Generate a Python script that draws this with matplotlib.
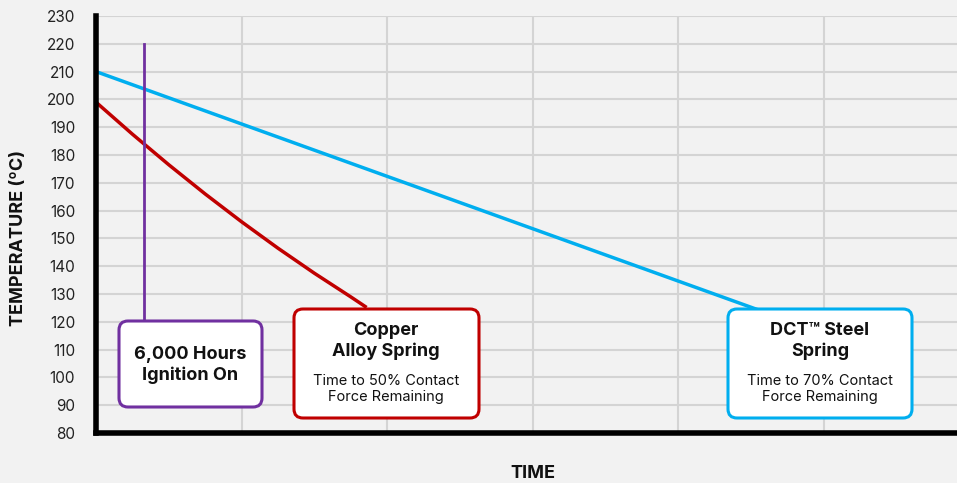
import matplotlib
matplotlib.use("Agg")
import matplotlib.pyplot as plt
from matplotlib.patches import FancyBboxPatch

plt.rcParams['font.family'] = ['Inter', 'DejaVu Sans']

# Data
steel_x = [0.0, 4.7]
steel_y = [210, 121.5]
copper_x = [0.0, 0.25, 0.5, 0.75, 1.0, 1.25, 1.5, 1.75, 1.85]
copper_y = [199, 187.5, 176.5, 166, 156, 146.5, 137.5, 129, 125.5]
marker_x = 0.33
marker_y = [120, 220]
y_ticks = list(range(80, 231, 10))
x_grid = [1, 2, 3, 4, 5]

BG = "#f2f2f2"
BLUE = "#00aeef"
RED = "#c00000"
PURPLE = "#7030a0"

W, H = 957, 483
fig = plt.figure(figsize=(W / 100, H / 100), dpi=100, facecolor=BG)
ax_l, ax_r, ax_t, ax_b = 96, 957, 16, 433
ax = fig.add_axes([ax_l / W, 1 - ax_b / H, (ax_r - ax_l) / W, (ax_b - ax_t) / H])
ax.set_facecolor(BG)
xmax = (ax_r - ax_l) / 145.5
ax.set_xlim(0, xmax)
ax.set_ylim(80, 230)

ax.set_yticks(y_ticks)
ax.set_xticks(x_grid)
ax.set_xticklabels([])
ax.tick_params(axis='both', length=0)
ax.tick_params(axis='y', pad=15, labelsize=11, labelcolor="#222222")
ax.grid(True, color="#d4d4d4", linewidth=1.5)
ax.set_axisbelow(True)
for s in ['top', 'right']:
    ax.spines[s].set_visible(False)
for s in ['left', 'bottom']:
    ax.spines[s].set_linewidth(4)
    ax.spines[s].set_color("black")
    ax.spines[s].set_zorder(5)

ax.plot(steel_x, steel_y, color=BLUE, lw=2.5, solid_capstyle='butt', zorder=3)
ax.plot(copper_x, copper_y, color=RED, lw=2.5, zorder=3)
ax.plot([marker_x, marker_x], marker_y, color=PURPLE, lw=2, zorder=3)

px_x = 145.5
px_y = (ax_b - ax_t) / 150.0
aspect = px_x / px_y

def px2data(x, y):
    return (x - ax_l) / px_x, 230 - (y - ax_t) / px_y

def box(x0, y0, x1, y1, color):
    dx0, dy1 = px2data(x0, y1)
    dx1, dy0 = px2data(x1, y0)
    r = 9 / px_x
    p = FancyBboxPatch((dx0, dy1), dx1 - dx0, dy0 - dy1,
                       boxstyle=f"round,pad=0,rounding_size={r}",
                       mutation_aspect=aspect, facecolor="white",
                       edgecolor=color, lw=2.2, zorder=6, clip_on=False)
    ax.add_patch(p)

box(119, 321, 262, 407, PURPLE)
box(294, 309, 479, 418, RED)
box(728, 309, 912, 418, BLUE)

def txt(x, y, s, **kw):
    dx, dy = px2data(x, y)
    ax.text(dx, dy, s, ha='center', va='center', zorder=7, color="#111111",
            linespacing=1.25, **kw)

txt(190, 365, "6,000 Hours\nIgnition On", fontsize=13, fontweight='bold')
txt(386, 341, "Copper\nAlloy Spring", fontsize=13, fontweight='bold')
txt(386, 389, "Time to 50% Contact\nForce Remaining", fontsize=10.5)
txt(820, 341, "DCT\u2122 Steel\nSpring", fontsize=13, fontweight='bold')
txt(820, 389, "Time to 70% Contact\nForce Remaining", fontsize=10.5)

fig.text(19 / W, 1 - 238 / H, "TEMPERATURE (ºC)", rotation=90, ha='center',
         va='center', fontsize=13, fontweight='bold', color="#111111")
fig.text(533 / W, 1 - 473 / H, "TIME", ha='center', va='center',
         fontsize=13, fontweight='bold', color="#111111")

fig.savefig("out.png", dpi=100, facecolor=BG)
